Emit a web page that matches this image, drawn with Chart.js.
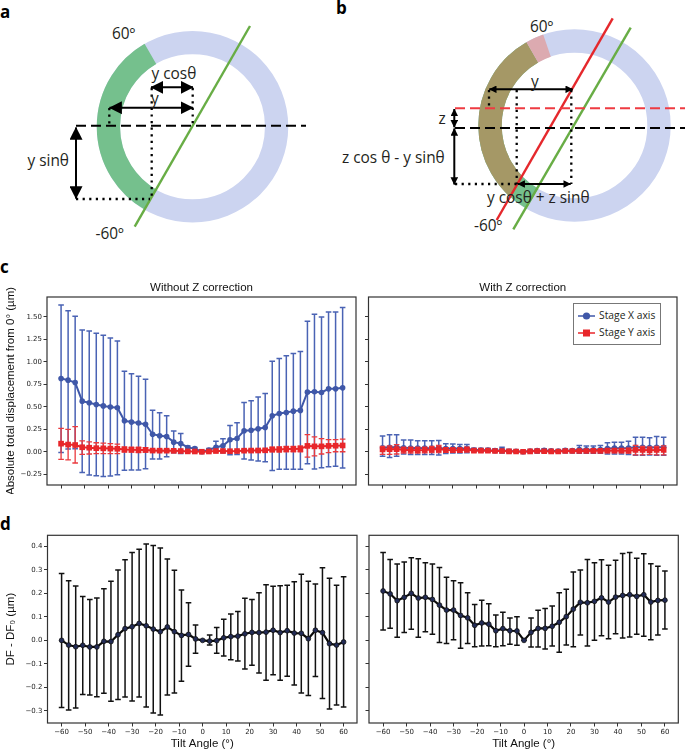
<!DOCTYPE html>
<html>
<head>
<meta charset="utf-8">
<title>Tilt displacement</title>
<script src="https://cdn.jsdelivr.net/npm/chart.js@4/dist/chart.umd.min.js"></script>
<style>
  html, body { margin: 0; padding: 0; background: #fff; }
  #page { position: relative; width: 685px; height: 751px; overflow: hidden; }
  #page canvas { position: absolute; }
  #sketch { position: absolute; left: 0; top: 0; }
  #sketch text { font-family: "Open Sans", sans-serif; font-size: 15.4px; fill: #231f20; }
  #sketch text.tag { font-size: 17px; font-weight: 700; fill: #000; }
  .panel-tag { position: absolute; left: 0; font: 700 17px "Open Sans", sans-serif; color: #000; line-height: 1; }
  #legend { position: absolute; left: 573px; top: 303px; width: 86px; height: 40px; border: 1px solid #777; background: #fff; font: 10.3px "Open Sans", sans-serif; color: #231f20; }
  #legend .row { position: absolute; left: 4px; height: 17px; line-height: 17px; white-space: nowrap; }
  #legend svg { position: absolute; left: 0; top: 3px; }
  #legend span { position: absolute; left: 21px; top: 0; }
</style>
</head>
<body>
<div id="page">
  <svg id="sketch" width="685" height="265" xmlns="http://www.w3.org/2000/svg">
    <defs>
      <clipPath id="leftOfRed"><polygon points="612.7,18.3 496.7,220 400,220 400,18.3"/></clipPath>
      <marker id="head" viewBox="0 0 10 10" refX="9.5" refY="5" markerWidth="6.5" markerHeight="6.5" orient="auto-start-reverse"><path d="M0,0 L10,5 L0,10 z" fill="#000"/></marker>
      <marker id="headSmall" viewBox="0 0 10 10" refX="9.5" refY="5" markerWidth="3.8" markerHeight="3.8" orient="auto-start-reverse"><path d="M0,0 L10,5 L0,10 z" fill="#000"/></marker>
    </defs>

    <!-- panel a -->
    <text class="tag" x="0" y="18">a</text>
    <circle cx="192.5" cy="126.7" r="84.1" fill="none" stroke="#ccd4f0" stroke-width="23.3"/>
    <path d="M150.4,53.9 A84.1,84.1 0 0 0 150.4,199.5" fill="none" stroke="#75c08d" stroke-width="23.3"/>
    <line x1="250" y1="26" x2="134.7" y2="226.7" stroke="#68ad45" stroke-width="2.4"/>
    <line x1="76" y1="125.7" x2="306" y2="125.7" stroke="#000" stroke-width="2" stroke-dasharray="10 5"/>
    <g stroke="#000" stroke-width="2.3" stroke-dasharray="2.2 4.4" fill="none">
      <line x1="76" y1="199" x2="150" y2="199"/>
      <line x1="151.7" y1="88" x2="151.7" y2="199"/>
      <line x1="192.7" y1="88" x2="192.7" y2="125"/>
      <line x1="109.3" y1="108" x2="109.3" y2="125"/>
    </g>
    <g stroke="#000" stroke-width="2" fill="none">
      <line x1="76" y1="127.5" x2="76" y2="198.5" marker-start="url(#head)" marker-end="url(#head)"/>
      <line x1="109.5" y1="107.7" x2="193" y2="107.7" marker-start="url(#head)" marker-end="url(#head)"/>
      <line x1="151" y1="87.3" x2="193" y2="87.3" marker-start="url(#head)" marker-end="url(#head)"/>
    </g>
    <text x="112" y="39">60º</text>
    <text x="151.5" y="79">y cosθ</text>
    <text x="151" y="104">y</text>
    <text x="27.5" y="166">y sinθ</text>
    <text x="95.5" y="239">-60º</text>

    <!-- panel b -->
    <text class="tag" x="336" y="14">b</text>
    <circle cx="574.5" cy="125.5" r="84.5" fill="none" stroke="#ccd4f0" stroke-width="23.4"/>
    <path d="M532.3,52.3 A84.5,84.5 0 0 0 532.3,198.7" fill="none" stroke="#75c08d" stroke-width="23.4"/>
    <path d="M532.3,52.3 A84.5,84.5 0 0 0 532.3,198.7" fill="none" stroke="#a59866" stroke-width="23.4" clip-path="url(#leftOfRed)"/>
    <path d="M547,45.6 A84.5,84.5 0 0 0 532.3,52.3" fill="none" stroke="#dcaab0" stroke-width="23.4"/>
    <line x1="612.7" y1="18.3" x2="496.7" y2="220" stroke="#e5282c" stroke-width="2.4"/>
    <line x1="630.7" y1="27.7" x2="513.3" y2="229.3" stroke="#68ad45" stroke-width="2.4"/>
    <line x1="455" y1="108.3" x2="685" y2="108.3" stroke="#ee3b42" stroke-width="2" stroke-dasharray="10 5"/>
    <line x1="455" y1="128" x2="685" y2="128" stroke="#000" stroke-width="2" stroke-dasharray="10 5"/>
    <g stroke="#000" stroke-width="2.3" stroke-dasharray="2.2 4.4" fill="none">
      <line x1="455" y1="184" x2="517" y2="184"/>
      <line x1="516.7" y1="90" x2="516.7" y2="184"/>
      <line x1="571.3" y1="90" x2="571.3" y2="184"/>
      <line x1="489" y1="90" x2="489" y2="108"/>
    </g>
    <g stroke="#000" stroke-width="2" fill="none">
      <line x1="489.3" y1="89.3" x2="572.7" y2="89.3" marker-start="url(#headSmall)" marker-end="url(#headSmall)"/>
      <line x1="454.3" y1="109" x2="454.3" y2="127.3" marker-start="url(#headSmall)" marker-end="url(#headSmall)"/>
      <line x1="454.3" y1="128.5" x2="454.3" y2="184.5" marker-start="url(#headSmall)" marker-end="url(#headSmall)"/>
      <line x1="517.7" y1="184" x2="570.7" y2="184" marker-start="url(#headSmall)" marker-end="url(#headSmall)"/>
    </g>
    <text x="530" y="32">60º</text>
    <text x="531" y="87">y</text>
    <text x="438.5" y="124">z</text>
    <text x="342" y="162.5">z cos θ - y sinθ</text>
    <text x="487" y="203">y cosθ + z sinθ</text>
    <text x="474" y="231">-60º</text>
  </svg>

  <div class="panel-tag" style="top:258px">c</div>
  <div class="panel-tag" style="top:515px">d</div>

  <canvas id="chart-c-left"></canvas>
  <canvas id="chart-c-right"></canvas>
  <canvas id="chart-d-left"></canvas>
  <canvas id="chart-d-right"></canvas>
  <div id="legend"></div>
</div>

<script>
const tiltAngles = [-60, -57, -54, -51, -48, -45, -42, -39, -36, -33, -30, -27, -24, -21, -18, -15, -12, -9, -6, -3, 0, 3, 6, 9, 12, 15, 18, 21, 24, 27, 30, 33, 36, 39, 42, 45, 48, 51, 54, 57, 60];
const xTickValues = [-60, -50, -40, -30, -20, -10, 0, 10, 20, 30, 40, 50, 60];
const cTickValues = [-0.25, 0, 0.25, 0.5, 0.75, 1, 1.25, 1.5];
const dTickValues = [-0.3, -0.2, -0.1, 0, 0.1, 0.2, 0.3, 0.4];

// panel c, without Z correction
const noZStageX = [0.815, 0.797, 0.77, 0.563, 0.545, 0.525, 0.51, 0.497, 0.49, 0.345, 0.33, 0.32, 0.305, 0.195, 0.178, 0.17, 0.107, 0.092, 0.048, 0.035, 0, 0.02, 0.05, 0.067, 0.133, 0.148, 0.233, 0.24, 0.255, 0.27, 0.4, 0.425, 0.437, 0.452, 0.46, 0.663, 0.667, 0.66, 0.7, 0.7, 0.711];
const noZStageXUpper = [1.633, 1.57, 1.507, 1.355, 1.345, 1.32, 1.296, 1.267, 1.233, 0.896, 0.867, 0.84, 0.807, 0.463, 0.433, 0.4, 0.23, 0.204, 0.063, 0.048, 0, 0.035, 0.118, 0.144, 0.293, 0.322, 0.548, 0.567, 0.61, 0.648, 1.007, 1.037, 1.067, 1.093, 1.115, 1.452, 1.53, 1.5, 1.556, 1.556, 1.604];
const noZStageXLower = [-0.007, 0.03, 0.033, -0.23, -0.26, -0.267, -0.275, -0.27, -0.255, -0.207, -0.204, -0.204, -0.189, -0.08, -0.08, -0.055, -0.01, -0.02, 0.01, 0.02, 0, 0.005, 0.007, -0.01, -0.033, -0.03, -0.08, -0.093, -0.104, -0.11, -0.21, -0.196, -0.196, -0.196, -0.196, -0.133, -0.193, -0.178, -0.167, -0.16, -0.18];
const noZStageY = [0.09, 0.08, 0.075, 0.05, 0.045, 0.04, 0.038, 0.035, 0.033, 0.025, 0.022, 0.02, 0.02, 0.013, 0.012, 0.012, 0.01, 0.008, 0.004, 0.003, 0, 0.003, 0.008, 0.008, 0.006, 0.008, 0.012, 0.013, 0.014, 0.016, 0.025, 0.026, 0.03, 0.03, 0.032, 0.065, 0.06, 0.06, 0.065, 0.067, 0.07];
const noZStageYUpper = [0.26, 0.25, 0.28, 0.12, 0.11, 0.1, 0.095, 0.09, 0.085, 0.055, 0.05, 0.05, 0.045, 0.025, 0.025, 0.025, 0.02, 0.015, 0.01, 0.005, 0, 0.006, 0.015, 0.015, 0.012, 0.015, 0.025, 0.025, 0.028, 0.03, 0.05, 0.055, 0.06, 0.06, 0.065, 0.19, 0.165, 0.145, 0.135, 0.135, 0.14];
const noZStageYLower = [-0.085, -0.09, -0.125, -0.03, -0.025, -0.02, -0.02, -0.02, -0.02, -0.005, -0.005, -0.01, -0.005, 0, 0, 0, 0, 0, 0, 0, 0, 0, 0, 0, 0, 0, 0, 0, 0, 0, 0, -0.003, 0, 0, 0, -0.06, -0.045, -0.025, -0.01, 0, 0];

// panel c, with Z correction
const withZStageX = [0.045, 0.05, 0.05, 0.045, 0.042, 0.042, 0.04, 0.04, 0.04, 0.035, 0.035, 0.035, 0.035, 0.02, 0.02, 0.018, 0.012, 0.018, 0.005, 0.005, 0, 0.008, 0.012, 0.015, 0.01, 0.008, 0.015, 0.012, 0.025, 0.022, 0.022, 0.025, 0.035, 0.04, 0.04, 0.042, 0.05, 0.05, 0.048, 0.05, 0.05];
const withZStageXUpper = [0.175, 0.19, 0.19, 0.13, 0.13, 0.122, 0.122, 0.122, 0.125, 0.09, 0.085, 0.08, 0.08, 0.04, 0.037, 0.037, 0.03, 0.05, 0.026, 0.018, 0, 0.015, 0.026, 0.033, 0.022, 0.018, 0.03, 0.018, 0.07, 0.063, 0.063, 0.07, 0.1, 0.107, 0.107, 0.118, 0.16, 0.16, 0.156, 0.17, 0.16];
const withZStageXLower = [-0.05, -0.063, -0.05, -0.025, -0.03, -0.03, -0.03, -0.03, -0.035, -0.02, -0.015, -0.015, -0.012, 0, 0, 0, 0, -0.015, -0.008, -0.005, 0, -0.008, -0.015, -0.01, -0.01, -0.008, -0.012, -0.012, -0.018, -0.018, -0.018, -0.018, -0.025, -0.025, -0.025, -0.03, -0.04, -0.04, -0.035, -0.04, -0.04];
const withZStageY = [0.025, 0.028, 0.03, 0.02, 0.02, 0.018, 0.02, 0.025, 0.03, 0.02, 0.018, 0.018, 0.025, 0.012, 0.012, 0.012, 0.008, 0.008, 0.005, 0.003, 0, 0.005, 0.008, 0.006, 0.004, 0.003, 0.008, 0.008, 0.008, 0.008, 0.01, 0.01, 0.012, 0.012, 0.012, 0.012, 0.02, 0.02, 0.018, 0.02, 0.02];
const withZStageYUpper = [0.06, 0.065, 0.08, 0.05, 0.05, 0.05, 0.05, 0.06, 0.07, 0.045, 0.04, 0.04, 0.05, 0.025, 0.025, 0.022, 0.015, 0.015, 0.01, 0.008, 0, 0.01, 0.015, 0.015, 0.01, 0.008, 0.018, 0.018, 0.02, 0.02, 0.022, 0.022, 0.035, 0.035, 0.035, 0.04, 0.07, 0.06, 0.055, 0.06, 0.065];
const withZStageYLower = [-0.03, -0.03, -0.025, -0.015, -0.015, -0.015, -0.012, -0.01, -0.01, -0.008, -0.005, -0.005, -0.005, 0, 0, 0, 0, 0, 0, 0, 0, 0, 0, 0, 0, 0, 0, 0, 0, 0, -0.005, -0.005, -0.01, -0.01, -0.01, -0.015, -0.035, -0.035, -0.03, -0.035, -0.035];

// panel d, without Z correction
const noZFocus = [0, -0.02, -0.027, -0.021, -0.028, -0.028, -0.004, -0.005, 0.024, 0.05, 0.058, 0.072, 0.062, 0.048, 0.037, 0.057, 0.037, 0.021, 0.025, 0.006, 0, -0.003, -0.001, 0.011, 0.016, 0.018, 0.028, 0.034, 0.033, 0.035, 0.043, 0.033, 0.041, 0.031, 0.03, 0.007, 0.043, 0.033, -0.014, -0.02, -0.007];
const noZFocusUpper = [0.285, 0.254, 0.231, 0.187, 0.174, 0.18, 0.22, 0.251, 0.299, 0.343, 0.374, 0.388, 0.41, 0.404, 0.393, 0.346, 0.298, 0.214, 0.16, 0.065, 0, 0.023, 0.055, 0.09, 0.112, 0.123, 0.179, 0.174, 0.203, 0.237, 0.23, 0.232, 0.234, 0.249, 0.281, 0.251, 0.24, 0.309, 0.264, 0.234, 0.271];
const noZFocusLower = [-0.286, -0.296, -0.288, -0.23, -0.232, -0.24, -0.225, -0.259, -0.251, -0.241, -0.258, -0.241, -0.283, -0.309, -0.317, -0.232, -0.224, -0.174, -0.11, -0.055, 0, -0.02, -0.055, -0.067, -0.082, -0.088, -0.122, -0.106, -0.139, -0.17, -0.146, -0.17, -0.153, -0.19, -0.224, -0.234, -0.154, -0.247, -0.292, -0.275, -0.283];

// panel d, with Z correction
const withZFocus = [0.21, 0.198, 0.169, 0.183, 0.2, 0.18, 0.183, 0.174, 0.15, 0.129, 0.129, 0.106, 0.096, 0.064, 0.074, 0.069, 0.041, 0.05, 0.041, 0.04, 0, 0.034, 0.051, 0.051, 0.06, 0.077, 0.101, 0.133, 0.162, 0.16, 0.166, 0.181, 0.163, 0.184, 0.191, 0.194, 0.187, 0.194, 0.163, 0.17, 0.171];
const withZFocusUpper = [0.374, 0.344, 0.325, 0.333, 0.352, 0.347, 0.33, 0.325, 0.31, 0.269, 0.254, 0.245, 0.203, 0.153, 0.171, 0.156, 0.108, 0.12, 0.095, 0.101, 0, 0.095, 0.128, 0.136, 0.146, 0.203, 0.217, 0.291, 0.299, 0.344, 0.33, 0.343, 0.32, 0.341, 0.37, 0.374, 0.349, 0.368, 0.326, 0.315, 0.295];
const withZFocusLower = [0.044, 0.052, 0.013, 0.034, 0.047, 0.013, 0.037, 0.026, -0.009, -0.013, 0.003, -0.033, -0.013, -0.027, -0.024, -0.023, -0.027, -0.023, -0.017, -0.021, 0, -0.028, -0.028, -0.037, -0.024, -0.051, -0.02, -0.027, 0.023, -0.024, 0.001, 0.02, 0.007, 0.028, 0.01, 0.014, 0.026, 0.018, 0.003, 0.023, 0.048];

/**
 * Error bars and caps, drawn under each dataset's line through the scales
 */
const errorBarPlugin = {
  id: 'errorBars',
  beforeDatasetDraw(chart, args) {
    const ds = chart.data.datasets[args.index];
    const { x, y } = chart.scales;
    const ctx = chart.ctx;
    ctx.save();
    ctx.strokeStyle = ds.errorColor;
    ctx.lineWidth = ds.errorWidth;
    ds.data.forEach((pt, i) => {
      const px = x.getPixelForValue(pt.x);
      const top = y.getPixelForValue(ds.upper[i]);
      const bottom = y.getPixelForValue(ds.lower[i]);
      ctx.beginPath();
      ctx.moveTo(px, top);
      ctx.lineTo(px, bottom);
      ctx.moveTo(px - 2.8, top);
      ctx.lineTo(px + 2.8, top);
      ctx.moveTo(px - 2.8, bottom);
      ctx.lineTo(px + 2.8, bottom);
      ctx.stroke();
    });
    ctx.restore();
  },
};

/**
 * Axes box around the plot area, and the title centred over that box
 */
const framePlugin = {
  id: 'frame',
  afterLayout(chart) {
    if (chart.titleBlock) {
      chart.titleBlock.left = chart.chartArea.left;
      chart.titleBlock.right = chart.chartArea.right;
    }
  },
  afterDraw(chart) {
    const a = chart.chartArea;
    const ctx = chart.ctx;
    ctx.save();
    ctx.strokeStyle = '#333';
    ctx.lineWidth = 1.2;
    ctx.strokeRect(a.left, a.top, a.right - a.left, a.bottom - a.top);
    ctx.restore();
  },
};

function toPoints(values) {
  return values.map((v, i) => ({ x: tiltAngles[i], y: v }));
}

function stageDatasets(xMean, xUpper, xLower, yMean, yUpper, yLower) {
  return [
    {
      label: 'Stage Y axis', data: toPoints(yMean), upper: yUpper, lower: yLower, order: 0,
      borderColor: '#e8262a', backgroundColor: '#e8262a', borderWidth: 2,
      pointStyle: 'rect', pointRadius: 4, pointBorderWidth: 0, errorColor: '#ea3a3e', errorWidth: 1.3,
    },
    {
      label: 'Stage X axis', data: toPoints(xMean), upper: xUpper, lower: xLower, order: 1,
      borderColor: '#3f57a8', backgroundColor: '#3f57a8', borderWidth: 2,
      pointStyle: 'circle', pointRadius: 2.8, pointBorderWidth: 0, errorColor: '#4a63b4', errorWidth: 1.5,
    },
  ];
}

function focusDatasets(mean, upper, lower) {
  return [{
    label: 'DF - DF0', data: toPoints(mean), upper, lower,
    borderColor: '#0a0a0a', backgroundColor: '#222b55', borderWidth: 2.2,
    pointStyle: 'circle', pointRadius: 2.4, pointBorderColor: '#111', pointBorderWidth: 0.8,
    errorColor: '#111', errorWidth: 1.5,
  }];
}

function minusLabel(text) {
  return String(text).replace('-', '\u2212');
}

/**
 * Create one panel; the box gives the canvas and the plot area inside it
 */
function createPanel(canvasId, box, spec) {
  const canvas = document.getElementById(canvasId);
  canvas.width = box.width;
  canvas.height = box.height;
  canvas.style.left = box.left + 'px';
  canvas.style.top = box.top + 'px';

  const tickFont = { family: "'DejaVu Sans', sans-serif", size: 7 };
  const nameFont = { family: "'Liberation Sans', sans-serif", size: 11.5 };

  return new Chart(canvas, {
    type: 'line',
    data: { datasets: spec.datasets },
    plugins: [errorBarPlugin, framePlugin],
    options: {
      responsive: false,
      animation: false,
      devicePixelRatio: 1,
      layout: { padding: { top: spec.title ? 0 : box.plotTop, right: box.plotRight, bottom: 0, left: 0 } },
      plugins: {
        legend: { display: false },
        tooltip: { enabled: false },
        title: {
          display: !!spec.title,
          text: spec.title,
          color: '#111',
          font: { family: "'Liberation Sans', sans-serif", size: 11.5, weight: 'normal', lineHeight: 1.2 },
          padding: { top: 5, bottom: box.plotTop - 18.8 },
        },
      },
      scales: {
        x: {
          type: 'linear',
          min: -66,
          max: 65.7,
          afterBuildTicks: (s) => { s.ticks = xTickValues.map((v) => ({ value: v })); },
          afterFit: (s) => { s.height = box.axisHeight; },
          grid: { drawOnChartArea: false, tickLength: 3.5, tickColor: '#333', tickWidth: 1 },
          border: { display: false },
          ticks: {
            autoSkip: false, maxRotation: 0, padding: 1.5, color: '#222', font: tickFont,
            callback: spec.xLabels ? (v) => minusLabel(v) : () => '',
          },
          title: {
            display: spec.xLabels, text: 'Tilt Angle (\u00b0)', color: '#111', font: nameFont,
            padding: { top: 0, bottom: 0 },
          },
        },
        y: {
          type: 'linear',
          min: spec.yMin,
          max: spec.yMax,
          afterBuildTicks: (s) => { s.ticks = spec.yTicks.map((v) => ({ value: v })); },
          afterFit: (s) => { s.width = box.plotLeft; },
          grid: { drawOnChartArea: false, tickLength: 3.5, tickColor: '#333', tickWidth: 1 },
          border: { display: false },
          ticks: {
            autoSkip: false, padding: 1.5, color: '#222', font: tickFont,
            callback: spec.yLabels ? (v) => minusLabel(v.toFixed(spec.yDigits)) : () => '',
          },
          title: {
            display: !!spec.yTitle, text: spec.yTitle, color: '#111',
            font: { family: "'Liberation Sans', sans-serif", size: spec.yTitleSize },
            padding: { top: 4, bottom: 0 },
          },
        },
      },
    },
  });
}

/**
 * Legend box for panel c, built from the chart's own datasets
 */
function buildLegend(chart) {
  const legend = document.getElementById('legend');
  const rows = [chart.data.datasets[1], chart.data.datasets[0]];
  rows.forEach((ds, i) => {
    const row = document.createElement('div');
    row.className = 'row';
    row.style.top = (3 + i * 17) + 'px';
    const mark = ds.pointStyle === 'rect'
      ? `<rect x="5" y="2.5" width="7" height="7" fill="${ds.borderColor}"/>`
      : `<circle cx="8.5" cy="6" r="3.6" fill="${ds.borderColor}"/>`;
    row.innerHTML = `<svg width="18" height="12"><line x1="0" y1="6" x2="17" y2="6" stroke="${ds.borderColor}" stroke-width="1.5"/>${mark}</svg><span>${ds.label}</span>`;
    legend.appendChild(row);
  });
}

const cRange = { yMin: -0.37, yMax: 1.722, yTicks: cTickValues, yDigits: 2 };
const dRange = { yMin: -0.3515, yMax: 0.447, yTicks: dTickValues, yDigits: 1 };

createPanel('chart-c-left',
  { left: 0, top: 276, width: 362, height: 218, plotLeft: 47, plotTop: 21, plotRight: 6, axisHeight: 9 },
  {
    ...cRange, title: 'Without Z correction', xLabels: false, yLabels: true,
    yTitle: 'Absolute total displacement from 0\u00b0 (\u00b5m)', yTitleSize: 11.5,
    datasets: stageDatasets(noZStageX, noZStageXUpper, noZStageXLower, noZStageY, noZStageYUpper, noZStageYLower),
  });

const withZChart = createPanel('chart-c-right',
  { left: 362, top: 276, width: 323, height: 218, plotLeft: 6.5, plotTop: 21, plotRight: 8, axisHeight: 9 },
  {
    ...cRange, title: 'With Z correction', xLabels: false, yLabels: false,
    datasets: stageDatasets(withZStageX, withZStageXUpper, withZStageXLower, withZStageY, withZStageYUpper, withZStageYLower),
  });
buildLegend(withZChart);

createPanel('chart-d-left',
  { left: 0, top: 525, width: 362, height: 226, plotLeft: 47.5, plotTop: 10.3, plotRight: 5, axisHeight: 28 },
  {
    ...dRange, xLabels: true, yLabels: true,
    yTitle: 'DF - DF\u2080 (\u00b5m)', yTitleSize: 11.5,
    datasets: focusDatasets(noZFocus, noZFocusUpper, noZFocusLower),
  });

createPanel('chart-d-right',
  { left: 362, top: 525, width: 323, height: 226, plotLeft: 7, plotTop: 10.3, plotRight: 6.7, axisHeight: 28 },
  {
    ...dRange, xLabels: true, yLabels: false,
    datasets: focusDatasets(withZFocus, withZFocusUpper, withZFocusLower),
  });
</script>
</body>
</html>
